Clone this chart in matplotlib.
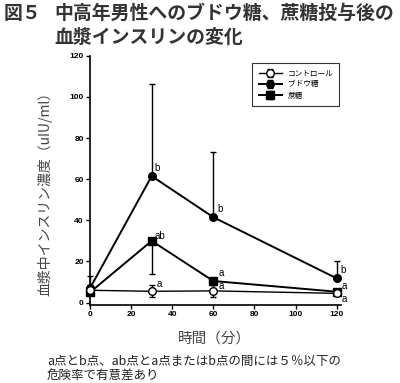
import numpy as np
import matplotlib
import matplotlib.pyplot as plt

matplotlib.use('Agg')

JP = ['Noto Sans CJK JP', 'DejaVu Sans']
plt.rcParams['font.family'] = JP

# 時間（分）
minutes = [0, 30, 60, 120]

# 血漿中インスリン濃度 (uIU/ml)
control = [6, 5.5, 5.7, 4.5]
control_err = [0, 3, 3, 0]
glucose = [7, 61.5, 41.5, 11.8]
glucose_err_up = [6, 45, 31.8, 8.2]
sucrose = [5, 30, 10.5, 5.3]
sucrose_err_down = [0, 16, 1.5, 0]

series_names = ['コントロール', 'ブドウ糖', '蔗糖']

# 有意差の記号 (x, y, 文字)
sig_labels = [(31.2, 65.5, 'b'), (62.2, 45.5, 'b'), (122.0, 15.8, 'b'),
              (31.4, 32.4, 'ab'), (62.4, 14.2, 'a'), (62.4, 8.0, 'a'),
              (32.4, 9.2, 'a'), (122.4, 8.0, 'a'), (122.4, 2.0, 'a')]

fig = plt.figure(figsize=(4.0, 3.83), dpi=100)
ax = fig.add_axes([0.225, 0.2045, 0.627, 0.650])

ax.errorbar(minutes, glucose, yerr=[[0] * 4, glucose_err_up], color='black', lw=1.4,
            marker='o', ms=5.5, mfc='black', capsize=2, elinewidth=1.0, clip_on=False,
            label=series_names[1], zorder=3)
ax.errorbar(minutes, sucrose, yerr=[sucrose_err_down, [0] * 4], color='black', lw=1.4,
            marker='s', ms=5.5, mfc='black', capsize=2, elinewidth=1.0, clip_on=False,
            label=series_names[2], zorder=3)
ax.errorbar(minutes, control, yerr=control_err, color='black', lw=1.0,
            marker='o', ms=5.5, mfc='white', capsize=2, elinewidth=1.0, clip_on=False,
            label=series_names[0], zorder=4)

for x, y, s in sig_labels:
    ax.text(x, y, s, fontsize=7, family='Liberation Sans', ha='left', va='center')

ax.set_xlim(0, 122)
ax.set_ylim(-1, 120)
ax.set_xticks(np.arange(0, 121, 20))
ax.set_yticks(np.arange(0, 121, 20))
ax.spines['top'].set_visible(False)
ax.spines['right'].set_visible(False)
ax.spines['left'].set_linewidth(1.2)
ax.spines['bottom'].set_linewidth(1.2)
ax.tick_params(axis='both', labelsize=6, length=3, width=1.0, pad=1.5)
for lbl in ax.get_xticklabels() + ax.get_yticklabels():
    lbl.set_family('Liberation Sans')
    lbl.set_fontweight('bold')

handles, labels = ax.get_legend_handles_labels()
order = [2, 0, 1]
leg = ax.legend([handles[i] for i in order], [labels[i] for i in order],
                loc='upper right', bbox_to_anchor=(1.01, 0.985), fontsize=5.5,
                frameon=True, fancybox=False, edgecolor='black', handlelength=3,
                borderpad=0.8, labelspacing=0.4)
leg.get_frame().set_linewidth(0.8)

ax.set_ylabel('血漿中インスリン濃度（uIU/ml）', fontsize=10, color='#444444')
ax.yaxis.set_label_coords(-0.15, 0.46)
fig.text(0.535, 0.117, '時間（分）', fontsize=10.5, color='#444444', ha='center', va='center')

fig.text(0.008, 0.965, '図５', fontsize=13.6, fontweight='bold', color='#333333', va='center')
fig.text(0.137, 0.965, '中高年男性へのブドウ糖、蔗糖投与後の', fontsize=13.6,
         fontweight='bold', color='#333333', va='center')
fig.text(0.137, 0.903, '血漿インスリンの変化', fontsize=13.6,
         fontweight='bold', color='#333333', va='center')

fig.text(0.117, 0.055, 'a点とb点、ab点とa点またはb点の間には５％以下の', fontsize=9.0,
         color='#222222', va='center')
fig.text(0.117, 0.018, '危険率で有意差あり', fontsize=9.0, color='#222222', va='center')

fig.savefig('out.png', dpi=100)
